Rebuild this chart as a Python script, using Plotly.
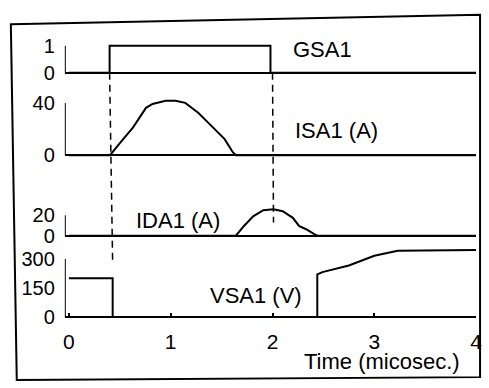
import plotly.graph_objects as go

W, H = 489, 388

# ---- data ----
time_gsa = [0.0, 0.40, 0.40, 1.98, 1.98, 4.0]
gsa1 = [0, 0, 1, 1, 0, 0]

time_isa = [0.0, 0.404, 0.533, 0.629, 0.757, 0.822, 0.95, 1.047, 1.143, 1.27, 1.40, 1.53, 1.61, 1.64, 4.0]
isa1 = [0, 0, 12.3, 21.1, 36.2, 39.2, 41.7, 41.7, 40.0, 32.5, 22.4, 12.3, 2.3, 0, 0]

time_ida = [0.0, 1.64, 1.72, 1.81, 1.91, 2.01, 2.10, 2.20, 2.26, 2.33, 2.41, 2.44, 4.0]
ida1 = [0, 0, 9.5, 19.0, 25.0, 26.0, 24.0, 17.5, 9.5, 6.3, 1.6, 0, 0]

time_vsa = [0.0, 0.43, 0.43, 2.44, 2.44, 2.49, 2.75, 3.0, 3.23, 4.0]
vsa1 = [200, 200, 0, 0, 220, 232, 266, 316, 342, 346]

gsa_ticks = [0, 1]
isa_ticks = [0, 40]
ida_ticks = [0, 20]
vsa_ticks = [0, 150, 300]
time_ticks = [0, 1, 2, 3, 4]

event_times = [0.40, 2.0]

labels = ["GSA1", "ISA1 (A)", "IDA1 (A)", "VSA1 (V)"]
x_title = "Time (micosec.)"

# ---- layout helpers (pixel coordinates of the picture) ----
FONT = "Liberation Sans, Arial, sans-serif"
XPX0, XSCALE = 68.0, 103.5          # pixel of t=0, pixels per microsecond
x_range = [-0.04, 4.0]
x_domain = [(XPX0 + x_range[0] * XSCALE) / W, (XPX0 + x_range[1] * XSCALE) / W]

# panel: (value a, pixel a, value b, pixel b, range lo, range hi)
panels = [
    (0, 70, 1, 42, -0.2, 1.2),
    (0, 155, 40, 101, -4, 46),
    (0, 238, 20, 217, -4, 30),
    (0, 322, 300, 262, -20, 370),
]


def v2px(p, v):
    va, pa, vb, pb, lo, hi = p
    return pa - (v - va) * (pa - pb) / (vb - va)


def v2paper(p, v):
    return 1 - v2px(p, v) / H


def domain(p):
    return [v2paper(p, p[4]), v2paper(p, p[5])]


fig = go.Figure()
series = [(time_gsa, gsa1), (time_isa, isa1), (time_ida, ida1), (time_vsa, vsa1)]
for i, (tx, ty) in enumerate(series):
    fig.add_trace(go.Scatter(x=tx, y=ty, mode="lines",
                             line=dict(color="black", width=2),
                             xaxis="x" if i == 0 else f"x{i+1}",
                             yaxis="y" if i == 0 else f"y{i+1}",
                             showlegend=False, hoverinfo="skip"))

ticksets = [gsa_ticks, isa_ticks, ida_ticks, vsa_ticks]
layout = dict(width=W, height=H, margin=dict(l=0, r=0, t=0, b=0),
              paper_bgcolor="white", plot_bgcolor="rgba(0,0,0,0)",
              showlegend=False)

for i, p in enumerate(panels):
    sfx = "" if i == 0 else str(i + 1)
    layout["yaxis" + sfx] = dict(
        domain=domain(p), range=[p[4], p[5]], anchor="x" + sfx,
        tickvals=ticksets[i], ticktext=[str(t) for t in ticksets[i]],
        showgrid=False, showline=False, ticks="",
        zeroline=True, zerolinecolor="black", zerolinewidth=2,
        tickfont=dict(family=FONT, size=20, color="black"),
        ticklabelstandoff=9, fixedrange=True)
    if i < 3:
        layout["xaxis" + sfx] = dict(domain=x_domain, range=x_range,
                                     anchor="y" + sfx, visible=False)
layout["xaxis4"] = dict(domain=x_domain, range=x_range, anchor="free",
                        position=v2paper(panels[3], 0),
                        tickvals=time_ticks, ticktext=[str(t) for t in time_ticks],
                        ticks="inside", ticklen=4, tickwidth=2, tickcolor="black",
                        showgrid=False, showline=False, zeroline=False,
                        tickfont=dict(family=FONT, size=21, color="black"),
                        ticklabelstandoff=10, fixedrange=True)
fig.update_layout(**layout)

shapes = []
# vertical axis lines for each panel (from 0 up to the top tick)
for i, p in enumerate(panels):
    sfx = "" if i == 0 else str(i + 1)
    shapes.append(dict(type="line", xref="x" + sfx, yref="y" + sfx,
                       x0=x_range[0], x1=x_range[0], y0=0, y1=max(ticksets[i]),
                       line=dict(color="black", width=2)))

# dashed event lines
shapes.append(dict(type="line", xref="x4", yref="paper",
                   x0=event_times[0], x1=event_times[0] + 0.03,
                   y0=v2paper(panels[0], 0), y1=v2paper(panels[3], 270),
                   line=dict(color="black", width=1.5, dash="7px,5px")))
shapes.append(dict(type="line", xref="x4", yref="paper",
                   x0=event_times[1], x1=event_times[1] + 0.01,
                   y0=v2paper(panels[0], 0), y1=v2paper(panels[2], 13),
                   line=dict(color="black", width=1.5, dash="7px,5px")))

# outer frame (slightly skewed like the scan), pixel coordinates
fx = [9, 486, 486, 15]
fy = [20, 10, 384, 387]
path = "M " + " L ".join(f"{x / W:.4f},{1 - y / H:.4f}"
                         for x, y in zip(fx, fy)) + " Z"
shapes.append(dict(type="path", xref="paper", yref="paper", path=path,
                   line=dict(color="black", width=2)))
fig.update_layout(shapes=shapes)

# in-plot series labels: (t, panel index, value at text middle)
label_pos = [(2.18, 0, 0.86), (2.20, 1, 19), (0.64, 2, 15), (1.37, 3, 110)]
ann = []
for text, (tx, pi, yv) in zip(labels, label_pos):
    sfx = "" if pi == 0 else str(pi + 1)
    ann.append(dict(text=text, x=tx, y=yv, xref="x" + sfx, yref="y" + sfx,
                    xanchor="left", yanchor="middle", showarrow=False,
                    font=dict(family=FONT, size=22, color="black")))
ann.append(dict(text=x_title, x=3.08, y=1 - 368 / H, xref="x4", yref="paper",
                xanchor="center", yanchor="middle", showarrow=False,
                font=dict(family=FONT, size=22, color="black")))
fig.update_layout(annotations=ann)

# remove the default page margin so the figure fills the 489x388 window
fig.write_html("out.html",
               config={"displayModeBar": False},
               post_script="document.body.style.margin='0';"
                           "document.body.style.overflow='hidden';")
